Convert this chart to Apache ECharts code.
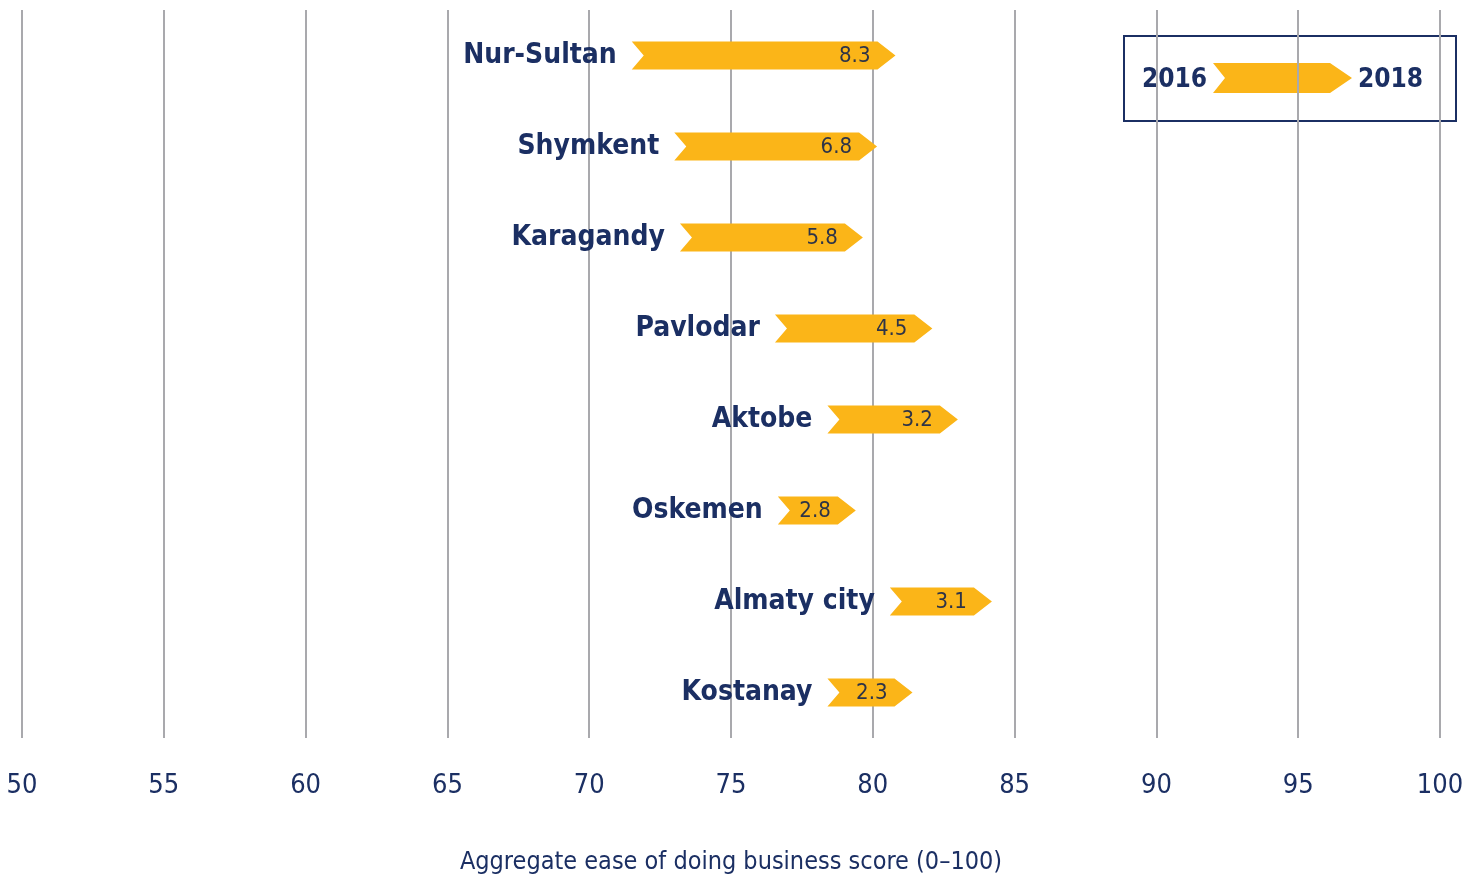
<!DOCTYPE html>
<html>
<head>
<meta charset="utf-8">
<script src="https://cdn.jsdelivr.net/npm/echarts@6/dist/echarts.min.js"></script>
<style>
  html, body { margin: 0; padding: 0; background: #fff; }
  #chart { width: 1470px; height: 880px; }
</style>
</head>
<body>
<div id="chart"></div>
<script>
// data
const cities = ['Nur-Sultan', 'Shymkent', 'Karagandy', 'Pavlodar', 'Aktobe', 'Oskemen', 'Almaty city', 'Kostanay'];
const score2016 = [71.5, 73.0, 73.2, 76.55, 78.4, 76.65, 80.6, 78.4];
const score2018 = [80.8, 80.15, 79.65, 82.1, 83.0, 79.4, 84.2, 81.4];
const changeLabels = ['8.3', '6.8', '5.8', '4.5', '3.2', '2.8', '3.1', '2.3'];
const legendYears = ['2016', '2018'];
const axisTitle = 'Aggregate ease of doing business score (0\u2013100)';

const FONT = '"Liberation Sans Narrow", "DejaVu Sans Condensed", "Open Sans", sans-serif';
const NAVY = '#1b2f63';
const GOLD = '#fbb518';

const chart = echarts.init(document.getElementById('chart'));

const seriesData = cities.map((c, i) => [score2016[i], score2018[i], i, changeLabels[i]]);

function arrowPoints(x0, x1, cy, h, head, notch) {
  return [
    [x0, cy - h / 2],
    [x1 - head, cy - h / 2],
    [x1, cy],
    [x1 - head, cy + h / 2],
    [x0, cy + h / 2],
    [x0 + notch, cy]
  ];
}

function renderArrow(params, api) {
  const p0 = api.coord([api.value(0), api.value(2)]);
  const p1 = api.coord([api.value(1), api.value(2)]);
  const cy = p0[1];
  const head = 18;
  const idx = params.dataIndex;
  return {
    type: 'group',
    children: [
      {
        type: 'polygon',
        shape: { points: arrowPoints(p0[0], p1[0], cy, 28, head, 12) },
        style: { fill: GOLD }
      },
      {
        type: 'text',
        x: p1[0] - head - 7,
        y: cy + 1,
        style: {
          text: changeLabels[idx],
          align: 'right',
          verticalAlign: 'middle',
          font: '22px ' + FONT,
          fill: '#2e3447'
        }
      },
      {
        type: 'text',
        x: p0[0] - 15,
        y: cy,
        style: {
          text: cities[idx],
          align: 'right',
          verticalAlign: 'middle',
          font: 'bold 28px ' + FONT,
          fill: NAVY
        }
      }
    ]
  };
}

const option = {
  animation: false,
  grid: { left: 22, right: 30, top: 10, bottom: 139, containLabel: false },
  xAxis: {
    type: 'value',
    min: 50,
    max: 100,
    interval: 5,
    axisLine: { show: false },
    axisTick: { show: false },
    axisLabel: {
      margin: 34,
      fontSize: 27,
      fontFamily: FONT,
      color: NAVY
    },
    splitLine: { lineStyle: { color: '#a9a9ad', width: 2 } },
    name: axisTitle,
    nameLocation: 'middle',
    nameGap: 112,
    nameTextStyle: { fontSize: 25, fontFamily: FONT, color: NAVY }
  },
  yAxis: {
    type: 'category',
    data: cities,
    inverse: true,
    axisLine: { show: false },
    axisTick: { show: false },
    axisLabel: { show: false },
    splitLine: { show: false }
  },
  series: [{
    type: 'custom',
    renderItem: renderArrow,
    encode: { x: [0, 1], y: 2 },
    data: seriesData,
    clip: false
  }],
  graphic: [
    {
      type: 'rect',
      left: 1123,
      top: 35,
      shape: { width: 332, height: 85 },
      style: { fill: '#fff', stroke: NAVY, lineWidth: 2 }
    },
    {
      type: 'text',
      x: 1207,
      y: 80,
      style: { text: legendYears[0], align: 'right', verticalAlign: 'middle', font: 'bold 26px ' + FONT, fill: NAVY }
    },
    {
      type: 'polygon',
      shape: { points: arrowPoints(1213, 1352, 78, 30, 22, 12) },
      style: { fill: GOLD }
    },
    {
      type: 'text',
      x: 1358,
      y: 80,
      style: { text: legendYears[1], align: 'left', verticalAlign: 'middle', font: 'bold 26px ' + FONT, fill: NAVY }
    }
  ]
};

chart.setOption(option);
</script>
</body>
</html>
